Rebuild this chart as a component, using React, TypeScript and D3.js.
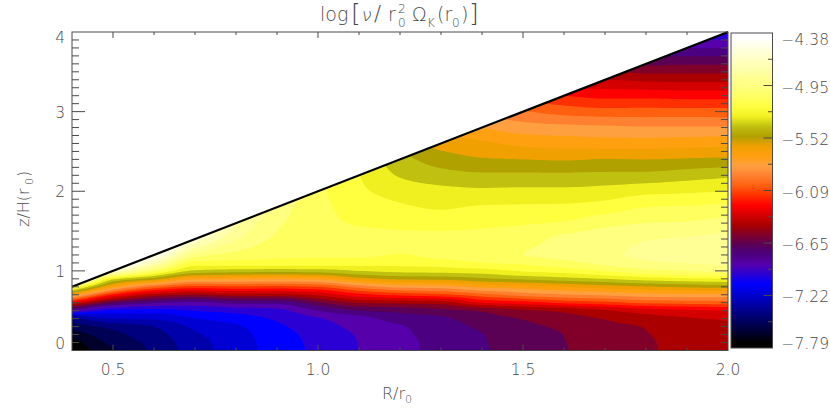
import React from 'react';
import * as d3 from 'd3';

// --- Data ---
const rStops = d3.range(17).map((i) => +(0.4 + i * 0.1).toFixed(1));
const zStops = [0, 0.1, 0.2, 0.3, 0.4, 0.5, 0.6, 0.7, 0.8, 0.9, 1.0, 1.1, 1.2, 1.4, 1.6, 1.8, 2.0, 2.2, 2.4, 2.6, 2.8, 3.0, 3.2, 3.4, 3.6, 3.8, 4.0];

// field in contour level units (0 = -7.79, 32 = -4.38), one row per R, one value per z
const nuLevels: number[][] = [
  [0.2, 0.6, 1.4, 2.5, 3.6, 8.6, 14, 19.8, 25.5, 32, 32, 32, 32, 32, 32, 32, 32, 32, 32, 32, 32, 32, 32, 32, 32, 32, 32],
  [1.85, 2.3, 2.7, 3.3, 5, 6.7, 10.4, 14.9, 19.6, 23.4, 29.5, 32, 32, 32, 32, 32, 32, 32, 32, 32, 32, 32, 32, 32, 32, 32, 32],
  [3.2, 3.35, 3.6, 4, 5.15, 6.55, 9.2, 12.6, 16.8, 21.5, 25.5, 28.8, 31, 33, 33, 33, 33, 33, 33, 33, 33, 33, 33, 33, 33, 33, 33],
  [4.5, 4.6, 4.85, 5.2, 5.95, 7.05, 8.75, 12, 15.6, 19.3, 22.8, 24.6, 26.5, 29.8, 32, 33, 33, 33, 33, 33, 33, 33, 33, 33, 33, 33, 33],
  [5.5, 5.55, 5.65, 5.85, 6.5, 7.35, 9.3, 12.5, 15.8, 19.2, 22.5, 24.6, 25.6, 27.1, 28.2, 30, 32, 32, 32, 32, 32, 32, 32, 32, 32, 32, 32],
  [6.4, 6.45, 6.55, 6.8, 7.15, 7.7, 9.3, 12.5, 15.7, 19.1, 22.4, 24.6, 25.2, 25.8, 26.2, 26.7, 27.3, 28, 28, 28, 28, 28, 28, 28, 28, 28, 28],
  [7.25, 7.3, 7.4, 7.6, 7.9, 9, 10.8, 13.2, 16, 19.3, 22.5, 24.5, 25.1, 25.2, 25.3, 25.3, 25.3, 25, 25, 25, 25, 25, 25, 25, 25, 25, 25],
  [8, 8.03, 8.1, 8.3, 8.6, 10, 12, 14.6, 17.4, 20.6, 23, 24.4, 25.15, 25.4, 24.9, 24.6, 24.2, 24, 23.6, 23, 23, 23, 23, 23, 23, 23, 23],
  [8.7, 8.72, 8.8, 8.92, 9.45, 10.3, 12.25, 15.3, 18.3, 21.2, 23.3, 24.35, 24.95, 25.25, 24.7, 24.15, 23.6, 22.9, 22.4, 21.5, 21, 21, 21, 21, 21, 21, 21],
  [9.3, 9.32, 9.38, 9.5, 9.8, 10.7, 12.4, 15.7, 18.5, 21.3, 23.4, 24.5, 25.3, 25.3, 24.55, 23.9, 23.3, 22.4, 21.5, 20.6, 19.7, 19, 19, 19, 19, 19, 19],
  [9.9, 9.93, 9.97, 10.2, 10.6, 11.1, 14, 16.6, 19.3, 21.8, 23.6, 24.95, 25.7, 25.4, 24.75, 24.1, 23.2, 22.2, 21.1, 20.2, 19, 17.8, 17, 17, 17, 17, 17],
  [10.4, 10.43, 10.5, 10.75, 11.05, 11.8, 14.5, 17.4, 19.55, 22.2, 24.1, 25.2, 26, 25.7, 24.9, 24.15, 23.25, 22.2, 21, 19.75, 18.45, 17.1, 15.5, 14, 14, 14, 14],
  [10.95, 10.97, 11.02, 11.2, 11.6, 12.2, 15.2, 17.9, 20, 22.6, 24.45, 25.7, 26.3, 26.2, 25.1, 24.2, 23.25, 22.2, 20.9, 19.6, 18.3, 16.6, 15, 13, 11.5, 11.5, 11.5],
  [11.45, 11.47, 11.55, 11.75, 12.05, 12.85, 15.65, 18.2, 20.5, 23, 25, 26.3, 26.8, 26.6, 25.7, 24.45, 23.4, 22.25, 21.05, 19.5, 18.2, 16.4, 14.7, 13, 11, 9, 9],
  [11.85, 11.88, 11.95, 12.05, 12.55, 13.5, 16.2, 18.6, 20.9, 23.5, 25.7, 26.85, 27.2, 26.95, 26, 25, 23.7, 22.3, 21, 19.5, 18.1, 16.4, 14.7, 12.8, 10.8, 9, 7],
  [12.35, 12.37, 12.42, 12.55, 12.9, 13.8, 16.4, 18.7, 21.2, 23.8, 26, 27.05, 27.4, 27.1, 26.1, 25.1, 23.85, 22.55, 21.1, 19.6, 18.1, 16.4, 14.6, 12.7, 10.9, 9, 7],
  [12.75, 12.77, 12.82, 12.9, 13.1, 14, 16.5, 18.7, 21.4, 24, 26.3, 27.2, 27.5, 27.3, 26.4, 25.3, 24, 22.8, 21.2, 19.7, 18.1, 16.4, 14.6, 12.7, 10.9, 9, 7.1],
];

const bandColors = [
  '#000000', '#00002a', '#000055', '#00007f', '#0000aa', '#0000d4', '#0000ff', '#2a00d4',
  '#5500aa', '#4a0080', '#5a0055', '#80002a', '#aa0000', '#d40000', '#ff0000', '#ff3000',
  '#ff6010', '#ff8030', '#ffa040', '#ffa010', '#f0a000', '#b0a000', '#c0c010', '#f0f020',
  '#ffff40', '#ffff60', '#ffff80', '#ffff95', '#ffffb0', '#ffffc8', '#ffffe4', '#ffffff',
];

const xMajor = [0.5, 1.0, 1.5, 2.0];
const xMinor = d3.range(5, 20).map((d) => d / 10);
const yMajor = [0, 1, 2, 3, 4];
const yMinor = d3.range(1, 40).map((d) => d / 10);
const barLabels = ['-4.38', '-4.95', '-5.52', '-6.09', '-6.65', '-7.22', '-7.79'];

// --- Layout ---
const W = 830;
const H = 415;
const ink = '#4a4a4a';
const fontFamily = '"DejaVu Sans", sans-serif';

const x = d3.scaleLinear().domain([0.4, 2.0]).range([72, 728]);
const y = d3.scaleLinear().domain([0, 4]).range([350.5, 32]);

const bar = { left: 731, right: 772.5, top: 33, bottom: 348 };
const barY = d3.scaleLinear().domain([0, 6]).range([bar.bottom, bar.top]);
const barLabelY = [39, 87, 139, 192, 244, 296, 343];

// --- Monotone cubic resampling, so the contours don't kink at the grid nodes ---
const monotoneSampler = (xs: number[], ys: number[]) => {
  const n = xs.length;
  const d = d3.range(n - 1).map((i) => (ys[i + 1] - ys[i]) / (xs[i + 1] - xs[i]));
  const m = xs.map((_, i) => {
    if (i === 0) return d[0];
    if (i === n - 1) return d[n - 2];
    if (d[i - 1] * d[i] <= 0) return 0;
    const h0 = xs[i] - xs[i - 1];
    const h1 = xs[i + 1] - xs[i];
    return (3 * (h0 + h1)) / ((2 * h1 + h0) / d[i - 1] + (h1 + 2 * h0) / d[i]);
  });
  const bis = d3.bisector((v: number) => v).right;
  return (t: number) => {
    const i = Math.min(n - 2, Math.max(0, bis(xs, t) - 1));
    const h = xs[i + 1] - xs[i];
    const s = (t - xs[i]) / h;
    return (
      (2 * s ** 3 - 3 * s ** 2 + 1) * ys[i] +
      (s ** 3 - 2 * s ** 2 + s) * h * m[i] +
      (-2 * s ** 3 + 3 * s ** 2) * ys[i + 1] +
      (s ** 3 - s ** 2) * h * m[i + 1]
    );
  };
};

const fineR = d3.range(129).map((i) => 0.4 + i * 0.0125);
const fineZ = d3.range(321).map((i) => i * 0.0125);

const byColumn = nuLevels.map((col) => fineZ.map(monotoneSampler(zStops, col)));
const flat: number[] = [];
fineZ.forEach((_, j) => {
  const row = monotoneSampler(rStops, byColumn.map((col) => col[j]));
  fineR.forEach((r) => flat.push(row(r)));
});

const bands = d3.contours()
  .size([fineR.length, fineZ.length])
  .smooth(true)
  .thresholds(d3.range(bandColors.length))(flat);

// d3.contours puts value i at i + 0.5, so shift back when going to R / z
const colToR = d3.scaleLinear().domain([0.5, fineR.length - 0.5]).range([0.4, 2.0]).clamp(true);
const rowToZ = d3.scaleLinear().domain([0.5, fineZ.length - 0.5]).range([0, 4]).clamp(true);

const ringPath = (ring: number[][]) =>
  'M' + ring.map(([c, r]) => `${x(colToR(c)).toFixed(2)},${y(rowToZ(r)).toFixed(2)}`).join('L') + 'Z';

const bandPath = (mp: d3.ContourMultiPolygon) =>
  mp.coordinates.map((poly) => poly.map(ringPath).join('')).join('');

const wedgeTop = [[0.4, 0.8], [2.0, 4.0]];
const wedgeArea = `M${x(0.4)},${y(0)}L${x(0.4)},${y(0.8)}L${x(2)},${y(4)}L${x(2)},${y(0)}Z`;

const barColor = d3.scaleLinear<string>()
  .domain(bandColors.map((_, i) => (i + 0.5) / bandColors.length))
  .range(bandColors)
  .interpolate(d3.interpolateRgb);

const Label = (p: any) => (
  <text fontFamily={fontFamily} fontWeight={200} fill={ink} {...p} />
);

export default function App() {
  return (
    <svg width={W} height={H} style={{ position: 'absolute', left: 0, top: 0, background: '#fff' }}>
      <defs>
        <clipPath id="wedge"><path d={wedgeArea} /></clipPath>
        <linearGradient id="barFill" x1="0" y1="1" x2="0" y2="0">
          {d3.range(0, 65).map((i) => (
            <stop key={i} offset={i / 64} stopColor={barColor(i / 64)} />
          ))}
        </linearGradient>
      </defs>

      <g clipPath="url(#wedge)">
        <rect x={x(0.4)} y={y(4)} width={x(2) - x(0.4)} height={y(0) - y(4)} fill={bandColors[0]} />
        {bands.map((b, i) => (
          <path key={i} d={bandPath(b)} fill={bandColors[i]} fillRule="evenodd" />
        ))}
      </g>

      <line x1={x(wedgeTop[0][0])} y1={y(wedgeTop[0][1])} x2={x(wedgeTop[1][0])} y2={y(wedgeTop[1][1])}
        stroke="#000" strokeWidth={2.2} />

      {/* frame and ticks */}
      <rect x={x(0.4)} y={y(4)} width={x(2) - x(0.4)} height={y(0) - y(4)} fill="none" stroke={ink} strokeWidth={1} />
      {xMinor.map((d) => {
        const len = xMajor.includes(d) ? 6 : 3;
        return (
          <g key={d} stroke={ink} strokeWidth={1}>
            <line x1={x(d)} x2={x(d)} y1={y(0)} y2={y(0) - len} />
            <line x1={x(d)} x2={x(d)} y1={y(4)} y2={y(4) + len} />
          </g>
        );
      })}
      {yMinor.map((d) => {
        const len = yMajor.includes(d) ? 13 : 7;
        return (
          <g key={d} stroke={ink} strokeWidth={1}>
            <line x1={x(0.4)} x2={x(0.4) + len} y1={y(d)} y2={y(d)} />
            <line x1={x(2)} x2={x(2) - len} y1={y(d)} y2={y(d)} />
          </g>
        );
      })}

      {xMajor.map((d) => (
        <Label key={d} x={x(d)} y={375} fontSize={15.5} textAnchor="middle">{d.toFixed(1)}</Label>
      ))}
      {yMajor.map((d) => (
        <Label key={d} x={65} y={d === 4 ? 43 : d === 0 ? 349 : y(d) + 6} fontSize={15.5} textAnchor="end">{d}</Label>
      ))}

      {/* axis titles */}
      <Label x={382} y={399} fontSize={16}>R/r</Label>
      <Label x={405} y={403} fontSize={11}>0</Label>
      <g transform="translate(29,190) rotate(-90)">
        <Label x={-37} y={0} fontSize={16}>z/H(r</Label>
        <Label x={5} y={4} fontSize={11}>0</Label>
        <Label x={13} y={0} fontSize={16}>)</Label>
      </g>

      {/* title */}
      <Label x={320} y={21} fontSize={19}>log</Label>
      <Label x={351} y={22} fontSize={25}>[</Label>
      <Label x={360} y={21} fontSize={18} transform="translate(4,0) skewX(-8)">ν</Label>
      <Label x={374} y={21} fontSize={21}>/</Label>
      <Label x={388} y={21} fontSize={19}>r</Label>
      <Label x={398} y={13} fontSize={12}>2</Label>
      <Label x={398} y={27} fontSize={12}>0</Label>
      <Label x={412} y={21} fontSize={19}>Ω</Label>
      <Label x={427} y={27} fontSize={12}>K</Label>
      <Label x={437} y={21} fontSize={19}>(r</Label>
      <Label x={452} y={27} fontSize={12}>0</Label>
      <Label x={461} y={21} fontSize={19}>)</Label>
      <Label x={469} y={22} fontSize={25}>]</Label>

      {/* colour bar */}
      <rect x={bar.left} y={bar.top} width={bar.right - bar.left} height={bar.bottom - bar.top}
        fill="url(#barFill)" stroke={ink} strokeWidth={1} />
      {d3.range(1, 12).map((i) => {
        const v = i / 2;
        const major = i % 2 === 0;
        return (
          <line key={i} x1={bar.right} x2={bar.right - (major ? 9 : 4.5)} y1={barY(v)} y2={barY(v)} stroke={ink} strokeWidth={1} />
        );
      })}
      {barLabels.map((t, i) => (
        <Label key={t} x={829} y={barLabelY[i] + 6} fontSize={15.5} textAnchor="end">{t.replace('-', '−')}</Label>
      ))}
    </svg>
  );
}
